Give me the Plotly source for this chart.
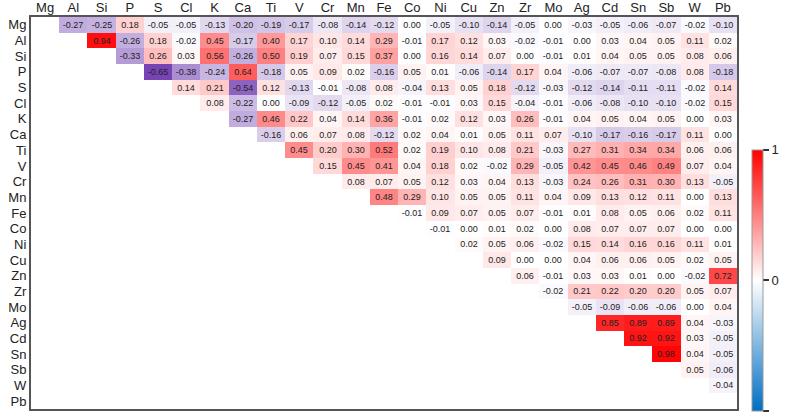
import plotly.graph_objects as go

elements = ["Mg", "Al", "Si", "P", "S", "Cl", "K", "Ca", "Ti", "V", "Cr", "Mn", "Fe",
            "Co", "Ni", "Cu", "Zn", "Zr", "Mo", "Ag", "Cd", "Sn", "Sb", "W", "Pb"]

# upper-triangle correlations, each row lists values for the columns after the diagonal
r_Mg = [-0.27, -0.25, 0.18, -0.05, -0.05, -0.13, -0.20, -0.19, -0.17, -0.08, -0.14, -0.12,
        0.00, -0.05, -0.10, -0.14, -0.05, 0.00, -0.03, -0.05, -0.06, -0.07, -0.02, -0.10]
r_Al = [0.94, -0.26, 0.18, -0.02, 0.45, -0.17, 0.40, 0.17, 0.10, 0.14, 0.29, -0.01, 0.17,
        0.12, 0.03, -0.02, -0.01, 0.00, 0.03, 0.04, 0.05, 0.11, 0.02]
r_Si = [-0.33, 0.26, 0.03, 0.56, -0.26, 0.50, 0.19, 0.07, 0.15, 0.37, 0.00, 0.16, 0.14,
        0.07, 0.00, -0.01, 0.01, 0.04, 0.05, 0.05, 0.08, 0.06]
r_P = [-0.65, -0.38, -0.24, 0.64, -0.18, 0.05, 0.09, 0.02, -0.16, 0.05, 0.01, -0.06, -0.14,
       0.17, 0.04, -0.06, -0.07, -0.07, -0.08, 0.08, -0.18]
r_S = [0.14, 0.21, -0.54, 0.12, -0.13, -0.01, -0.08, 0.08, -0.04, 0.13, 0.05, 0.18, -0.12,
       -0.03, -0.12, -0.14, -0.11, -0.11, -0.02, 0.14]
r_Cl = [0.08, -0.22, 0.00, -0.09, -0.12, -0.05, 0.02, -0.01, -0.01, 0.03, 0.15, -0.04,
        -0.01, -0.06, -0.08, -0.10, -0.10, -0.02, 0.15]
r_K = [-0.27, 0.46, 0.22, 0.04, 0.14, 0.36, -0.01, 0.02, 0.12, 0.03, 0.26, -0.01, 0.04,
       0.05, 0.04, 0.05, 0.00, 0.03]
r_Ca = [-0.16, 0.06, 0.07, 0.08, -0.12, 0.02, 0.04, 0.01, 0.05, 0.11, 0.07, -0.10, -0.17,
        -0.16, -0.17, 0.11, 0.00]
r_Ti = [0.45, 0.20, 0.30, 0.52, 0.02, 0.19, 0.10, 0.08, 0.21, -0.03, 0.27, 0.31, 0.34,
        0.34, 0.06, 0.06]
r_V = [0.15, 0.45, 0.41, 0.04, 0.18, 0.02, -0.02, 0.29, -0.05, 0.42, 0.45, 0.46, 0.49,
       0.07, 0.04]
r_Cr = [0.08, 0.07, 0.05, 0.12, 0.03, 0.04, 0.13, -0.03, 0.24, 0.26, 0.31, 0.30, 0.13, -0.05]
r_Mn = [0.48, 0.29, 0.10, 0.05, 0.05, 0.11, 0.04, 0.09, 0.13, 0.12, 0.11, 0.00, 0.13]
r_Fe = [-0.01, 0.09, 0.07, 0.05, 0.07, -0.01, 0.01, 0.08, 0.05, 0.06, 0.02, 0.11]
r_Co = [-0.01, 0.00, 0.01, 0.02, 0.00, 0.08, 0.07, 0.07, 0.07, 0.00, 0.00]
r_Ni = [0.02, 0.05, 0.06, -0.02, 0.15, 0.14, 0.16, 0.16, 0.11, 0.01]
r_Cu = [0.09, 0.00, 0.00, 0.04, 0.06, 0.06, 0.05, 0.02, 0.05]
r_Zn = [0.06, -0.01, 0.03, 0.03, 0.01, 0.00, -0.02, 0.72]
r_Zr = [-0.02, 0.21, 0.22, 0.20, 0.20, 0.05, 0.07]
r_Mo = [-0.05, -0.09, -0.06, -0.06, 0.00, 0.04]
r_Ag = [0.85, 0.89, 0.89, 0.04, -0.03]
r_Cd = [0.92, 0.92, 0.03, -0.05]
r_Sn = [0.98, 0.04, -0.05]
r_Sb = [0.05, -0.06]
r_W = [-0.04]
r_Pb = []

rows = [r_Mg, r_Al, r_Si, r_P, r_S, r_Cl, r_K, r_Ca, r_Ti, r_V, r_Cr, r_Mn, r_Fe,
        r_Co, r_Ni, r_Cu, r_Zn, r_Zr, r_Mo, r_Ag, r_Cd, r_Sn, r_Sb, r_W, r_Pb]

n = len(elements)
z = []
txt = []
for i, r in enumerate(rows):
    zr, tr = [], []
    for j in range(n):
        if j > i:
            v = r[j - i - 1]
            zr.append(v)
            tr.append(f"{v:.2f}")
        else:
            zr.append(None)
            tr.append("")
    z.append(zr)
    txt.append(tr)

cell_scale = [
    [0.0, "rgb(80,20,150)"],
    [0.175, "rgb(120,68,180)"],
    [0.365, "rgb(192,172,222)"],
    [0.5, "rgb(255,255,255)"],
    [1.0, "rgb(255,0,0)"],
]
bar_scale = [
    [0.0, "rgb(0,110,195)"],
    [0.5, "rgb(255,255,255)"],
    [1.0, "rgb(255,0,0)"],
]

fig = go.Figure()
fig.add_trace(go.Heatmap(
    z=z, x=elements, y=elements, text=txt, texttemplate="%{text}",
    textfont=dict(size=9, color="#222", family="Liberation Sans"),
    colorscale=cell_scale, zmin=-1, zmax=1, showscale=False,
    hoverinfo="skip",
))
fig.add_trace(go.Scatter(
    x=[None], y=[None], mode="markers", showlegend=False, hoverinfo="skip",
    marker=dict(color=[0], cmin=-1, cmax=1, colorscale=bar_scale, showscale=True,
                colorbar=dict(thickness=11, len=0.666, lenmode="fraction", y=0.328,
                              yanchor="middle", x=1.021, xanchor="left", xpad=0, ypad=0,
                              outlinewidth=1, outlinecolor="#999",
                              tickvals=[-1, 0, 1], ticktext=["-1", "0", "1"],
                              ticks="outside", ticklen=6, tickwidth=2, tickcolor="#333",
                              tickfont=dict(size=13, color="#222"))),
))

fig.update_layout(
    width=787, height=415,
    margin=dict(l=31, r=50, t=17, b=6, autoexpand=False),
    paper_bgcolor="white", plot_bgcolor="white",
    font=dict(family="Liberation Sans", size=13, color="#222"),
    xaxis=dict(side="top", type="category", showgrid=False, zeroline=False, showline=True,
               linecolor="#555", linewidth=2, mirror=True, ticks="", automargin=False,
               tickmode="array", tickvals=elements, ticktext=elements,
               ticklabelstandoff=-2, tickfont=dict(size=13)),
    yaxis=dict(type="category", autorange="reversed", showgrid=False, zeroline=False,
               showline=True, linecolor="#555", linewidth=2, mirror=True, ticks="",
               automargin=False, tickmode="array", tickvals=elements, ticktext=elements,
               tickfont=dict(size=13)),
)

fig.write_html("out.html", config={"displayModeBar": False},
               post_script="document.body.style.margin='0';document.body.style.overflow='hidden';")
